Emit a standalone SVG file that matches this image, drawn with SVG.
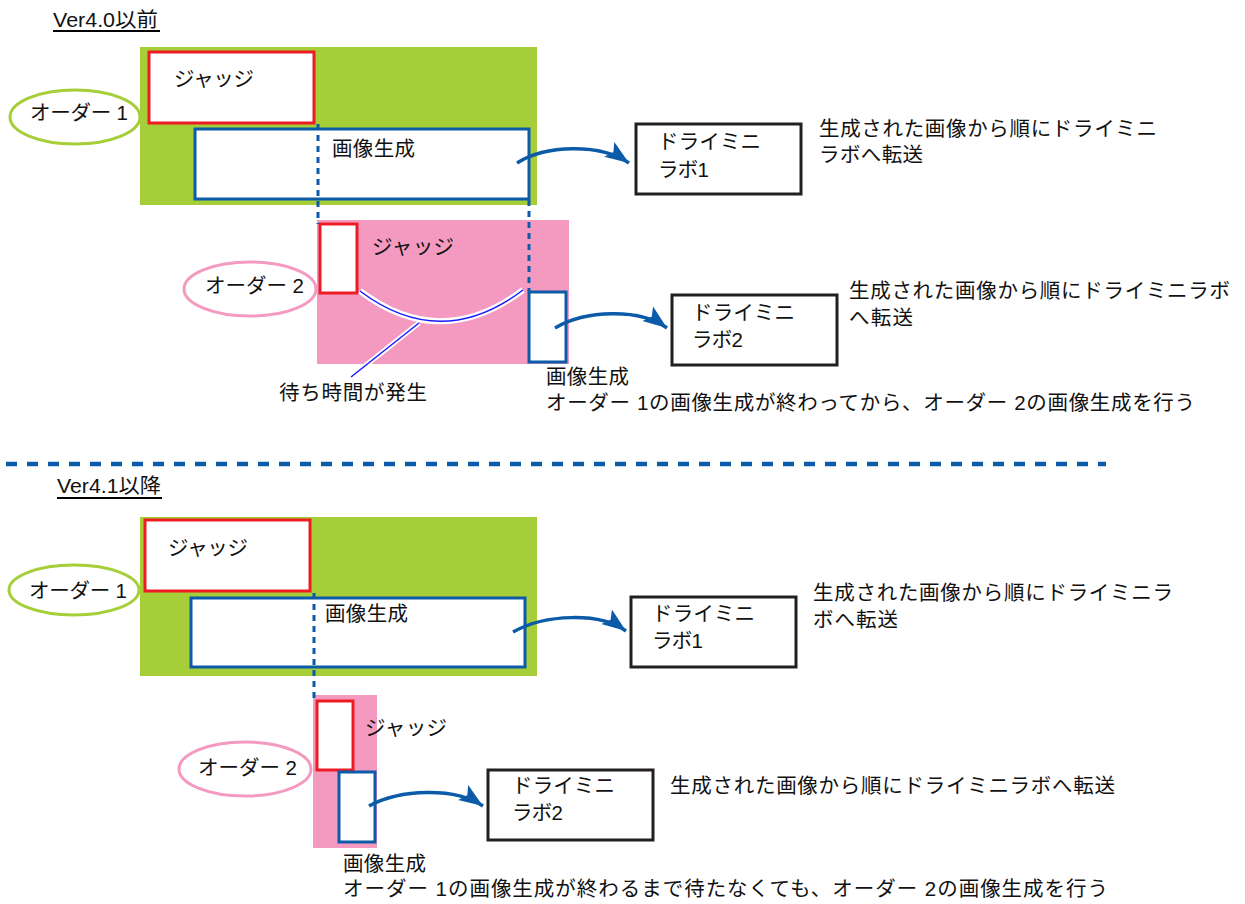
<svg xmlns="http://www.w3.org/2000/svg" width="1245" height="904" viewBox="0 0 1245 904">
<style>
text{font-family:"Liberation Sans","Noto Sans CJK JP",sans-serif;font-size:20.5px;fill:#111;}
.g{fill:#a6ce39;}
.p{fill:#f49ac1;}
.judge{fill:#fff;stroke:#ed1c24;stroke-width:3;}
.gen{fill:#fff;stroke:#0b5ba8;stroke-width:3;}
.lab{fill:#fff;stroke:#231f20;stroke-width:3;}
.e1{fill:#fff;stroke:#a6ce39;stroke-width:3;}
.e2{fill:#fff;stroke:#f49ac1;stroke-width:3;}
.dot{stroke:#0b5ba8;stroke-width:3;stroke-dasharray:6 5;fill:none;}
.arr{fill:none;stroke:#0b5ba8;stroke-width:3.5;marker-end:url(#ah);}
.ul{stroke:#000;stroke-width:2;}
</style>
<defs>
<marker id="ah" markerUnits="userSpaceOnUse" markerWidth="26" markerHeight="20" refX="24" refY="9" orient="auto">
<path d="M0,0 L24,9 L0,18 L5,9 z" fill="#0b5ba8"/>
</marker>
</defs>

<g id="title-top">
<text x="53" y="27" textLength="105" lengthAdjust="spacingAndGlyphs">Ver4.0以前</text>
<line class="ul" x1="53" y1="31" x2="160" y2="31"/>
</g>

<g id="order1-top">
<rect class="g" x="140" y="47" width="397" height="158"/>
<rect class="judge" x="149" y="52" width="165" height="71"/>
<text x="174" y="86" textLength="80">ジャッジ</text>
<rect class="gen" x="195" y="129" width="334" height="70"/>
<text x="332" y="156" textLength="83">画像生成</text>
<ellipse class="e1" cx="75" cy="117" rx="65" ry="27"/>
<text x="30" y="120" textLength="98">オーダー 1</text>
</g>

<g id="lab1-top">
<rect class="lab" x="636" y="124" width="165" height="70"/>
<text x="658" y="149" textLength="103">ドライミニ</text>
<text x="658" y="177" textLength="51">ラボ1</text>
<text x="819" y="136" textLength="338">生成された画像から順にドライミニ</text>
<text x="819" y="162" textLength="104">ラボへ転送</text>
</g>

<g id="order2-top">
<rect class="p" x="317" y="220" width="252" height="144"/>
<rect class="judge" x="320" y="224" width="37" height="69"/>
<text x="372" y="254" textLength="82">ジャッジ</text>
<rect class="gen" x="529" y="292" width="37" height="70"/>
<ellipse class="e2" cx="250" cy="289" rx="66" ry="27"/>
<text x="205" y="293" textLength="99">オーダー 2</text>
<path d="M360,291 Q441,352 523,290" fill="none" stroke="#fff" stroke-width="6"/>
<path d="M360,291 Q441,352 523,290" fill="none" stroke="#1a1aff" stroke-width="1.5"/>
<line x1="419" y1="323" x2="351" y2="377" stroke="#fff" stroke-width="5"/>
<line x1="419" y1="323" x2="351" y2="377" stroke="#1a1aff" stroke-width="1.5"/>
<text x="279" y="400" textLength="148">待ち時間が発生</text>
<text x="546" y="384" textLength="83">画像生成</text>
<text x="546" y="410" textLength="649">オーダー 1の画像生成が終わってから、オーダー 2の画像生成を行う</text>
</g>

<g id="lab2-top">
<rect class="lab" x="672" y="295" width="165" height="70"/>
<text x="692" y="320" textLength="103">ドライミニ</text>
<text x="692" y="347" textLength="51">ラボ2</text>
<text x="849" y="298" textLength="381">生成された画像から順にドライミニラボ</text>
<text x="849" y="325" textLength="64">へ転送</text>
</g>

<g id="separator">
<line x1="6" y1="464" x2="1106" y2="464" stroke="#0b5ba8" stroke-width="4.5" stroke-dasharray="11 10"/>
</g>

<g id="title-bottom">
<text x="57" y="493" textLength="104" lengthAdjust="spacingAndGlyphs">Ver4.1以降</text>
<line class="ul" x1="57" y1="498" x2="162" y2="498"/>
</g>

<g id="order1-bottom">
<rect class="g" x="140" y="517" width="397" height="159"/>
<rect class="judge" x="145" y="520" width="165" height="71"/>
<text x="168" y="555" textLength="80">ジャッジ</text>
<rect class="gen" x="191" y="598" width="334" height="69"/>
<text x="325" y="621" textLength="83">画像生成</text>
<ellipse class="e1" cx="74" cy="590" rx="65" ry="25"/>
<text x="29" y="598" textLength="98">オーダー 1</text>
</g>

<g id="lab1-bottom">
<rect class="lab" x="631" y="597" width="165" height="70"/>
<text x="652" y="621" textLength="103">ドライミニ</text>
<text x="652" y="648" textLength="51">ラボ1</text>
<text x="813" y="600" textLength="360">生成された画像から順にドライミニラ</text>
<text x="813" y="627" textLength="85">ボへ転送</text>
</g>

<g id="order2-bottom">
<rect class="p" x="313" y="695" width="64" height="153"/>
<rect class="judge" x="317" y="701" width="36" height="69"/>
<text x="365" y="735" textLength="82">ジャッジ</text>
<rect class="gen" x="339" y="772" width="36" height="70"/>
<ellipse class="e2" cx="245" cy="769" rx="66" ry="27"/>
<text x="198" y="775" textLength="99">オーダー 2</text>
<text x="343" y="871" textLength="83">画像生成</text>
<text x="343" y="896" textLength="765">オーダー 1の画像生成が終わるまで待たなくても、オーダー 2の画像生成を行う</text>
</g>

<g id="lab2-bottom">
<rect class="lab" x="488" y="770" width="165" height="70"/>
<text x="512" y="793" textLength="103">ドライミニ</text>
<text x="512" y="820" textLength="51">ラボ2</text>
<text x="670" y="793" textLength="445">生成された画像から順にドライミニラボへ転送</text>
</g>

<g id="connectors">
<line class="dot" x1="318" y1="124" x2="318" y2="224"/>
<line class="dot" x1="529" y1="200" x2="529" y2="291"/>
<line class="dot" x1="314" y1="593" x2="314" y2="699"/>
<path class="arr" d="M517,163 C545,145 600,143 629,163"/>
<path class="arr" d="M555,328 C585,310 640,308 667,328"/>
<path class="arr" d="M513,632 C545,614 600,612 626,631"/>
<path class="arr" d="M369,806 C400,789 455,787 483,806"/>
</g>
</svg>
